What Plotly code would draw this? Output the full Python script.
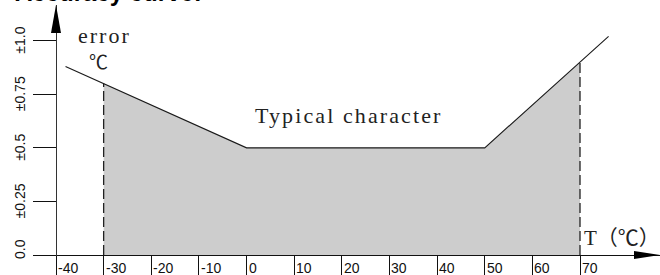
import plotly.graph_objects as go

# ---------------- data ----------------
curve_T = [-38, -30, 0, 50, 70, 76]          # temperature (°C)
curve_err = [0.88, 0.80, 0.50, 0.50, 0.90, 1.02]  # error (±°C)
shade_from = -30
shade_to = 70
x_ticks = [-40, -30, -20, -10, 0, 10, 20, 30, 40, 50, 60, 70]
x_tick_labels = ["-40", "-30", "-20", "-10", "0", "10", "20", "30", "40", "50", "60", "70"]
y_ticks = [0.0, 0.25, 0.5, 0.75, 1.0]
y_tick_labels = ["0.0", "±0.25", "±0.5", "±0.75", "±1.0"]
title_text = "Accuracy curve:"
y_name = "error"
y_unit = "℃"
x_name = "T（℃）"
curve_label = "Typical character"

# ---------------- layout geometry ----------------
W, H = 660, 275
AX_X_PX = 56        # pixel column of the y axis (T = -40)
AX_Y_PX = 255       # pixel row of the x axis (error = 0)
PX_PER_T = 524 / 110
PX_PER_ERR = 214.3
X_LEFT_PX = 33
Y_TOP_PX = 5

def px(xp):
    return xp / W

def py(yp):
    return 1 - yp / H

def spaced(text, ls):
    return f'<span style="letter-spacing:{ls}px">{text}</span>'

x_range = [x_ticks[0] - (AX_X_PX - X_LEFT_PX) / PX_PER_T,
           x_ticks[0] + (W - AX_X_PX) / PX_PER_T]
y_range = [-(H - AX_Y_PX) / PX_PER_ERR, (AX_Y_PX - Y_TOP_PX) / PX_PER_ERR]

shade_T = [t for t in curve_T if shade_from <= t <= shade_to]
shade_err = [e for t, e in zip(curve_T, curve_err) if shade_from <= t <= shade_to]

fig = go.Figure()

# shaded area
fig.add_trace(go.Scatter(x=shade_T, y=shade_err, mode="lines", fill="tozeroy",
                         fillcolor="#cdcdcd", line=dict(width=0, color="#cdcdcd"),
                         hoverinfo="skip", showlegend=False))
# dashed boundaries
for t, e in zip(curve_T, curve_err):
    if t in (shade_from, shade_to):
        fig.add_trace(go.Scatter(x=[t, t], y=[0, e], mode="lines",
                                 line=dict(color="#222222", width=1.3, dash="10px,4px"),
                                 hoverinfo="skip", showlegend=False))
# curve
fig.add_trace(go.Scatter(x=curve_T, y=curve_err, mode="lines",
                         line=dict(color="#1a1a1a", width=1.1),
                         hoverinfo="skip", showlegend=False))

ann = []
# x tick labels
for v, lab in zip(x_ticks, x_tick_labels):
    ann.append(dict(x=v, xref="x", y=py(267.5), yref="paper", text=lab, showarrow=False,
                    xanchor="left", yanchor="middle", xshift=0,
                    font=dict(family="Liberation Sans, Arial", size=14, color="#111")))
# y tick labels
for v, lab in zip(y_ticks, y_tick_labels):
    ann.append(dict(x=px(20), xref="paper", y=v, yref="y", text=lab, showarrow=False,
                    textangle=-90, xanchor="center", yanchor="middle",
                    yshift=6 if v == 0 else 0,
                    font=dict(family="Liberation Sans, Arial", size=14, color="#111")))

serif = "Liberation Serif, Noto Sans CJK SC, serif"
cjk = "Noto Sans CJK SC"
ann.append(dict(x=px(76), xref="paper", y=py(36), yref="paper", text=spaced(y_name, 2.0),
                showarrow=False, xanchor="left", yanchor="middle",
                font=dict(family=serif, size=22, color="#222")))
ann.append(dict(x=px(98.5), xref="paper", y=py(61), yref="paper", text=y_unit, showarrow=False,
                xanchor="center", yanchor="middle",
                font=dict(family=cjk, size=19, color="#222")))
ann.append(dict(x=px(253), xref="paper", y=py(115), yref="paper", text=spaced(curve_label, 2.1),
                showarrow=False, xanchor="left", yanchor="middle",
                font=dict(family=serif, size=22, color="#222")))
ann.append(dict(x=px(582), xref="paper", y=py(236), yref="paper",
                text=x_name[0] + f'<span style="font-family:{cjk}">' + x_name[1:] + '</span>',
                showarrow=False, xanchor="left", yanchor="middle",
                font=dict(family=serif, size=21, color="#222")))
ann.append(dict(x=px(13), xref="paper", y=py(8), yref="paper", text="<b>" + title_text + "</b>",
                showarrow=False, xanchor="left", yanchor="bottom",
                font=dict(family="Liberation Sans, Arial", size=24, color="#000")))

shapes = [
    # y-axis arrowhead
    dict(type="path", xref="paper", yref="paper",
         path=f"M {px(AX_X_PX-5)} {py(33)} L {px(AX_X_PX)} {py(Y_TOP_PX)} L {px(AX_X_PX+5)} {py(33)} Z",
         fillcolor="#000", line=dict(width=0)),
    # x-axis arrowhead
    dict(type="path", xref="paper", yref="paper",
         path=f"M {px(634)} {py(AX_Y_PX-4)} L {px(W)} {py(AX_Y_PX)} L {px(634)} {py(AX_Y_PX+4)} Z",
         fillcolor="#000", line=dict(width=0)),
]

fig.update_layout(
    width=W, height=H, margin=dict(l=0, r=0, t=0, b=0),
    paper_bgcolor="white", plot_bgcolor="white",
    showlegend=False, annotations=ann, shapes=shapes,
    xaxis=dict(range=x_range, domain=[X_LEFT_PX / W, 1], anchor="free",
               position=(H - AX_Y_PX) / H,
               showline=True, linecolor="#111", linewidth=1,
               tickvals=x_ticks, ticks="outside", ticklen=H - AX_Y_PX, tickcolor="#111",
               tickwidth=1, showticklabels=False, showgrid=False, zeroline=False, fixedrange=True),
    yaxis=dict(range=y_range, domain=[0, 1 - Y_TOP_PX / H], anchor="free",
               position=AX_X_PX / W,
               showline=True, linecolor="#333", linewidth=1,
               tickvals=y_ticks, ticks="outside", ticklen=AX_X_PX - X_LEFT_PX, tickcolor="#111",
               tickwidth=1, showticklabels=False, showgrid=False, zeroline=False, fixedrange=True),
)

fig.write_html("out.html", config={"displayModeBar": False, "staticPlot": True},
               post_script="document.body.style.margin='0';document.body.style.overflow='hidden';")
